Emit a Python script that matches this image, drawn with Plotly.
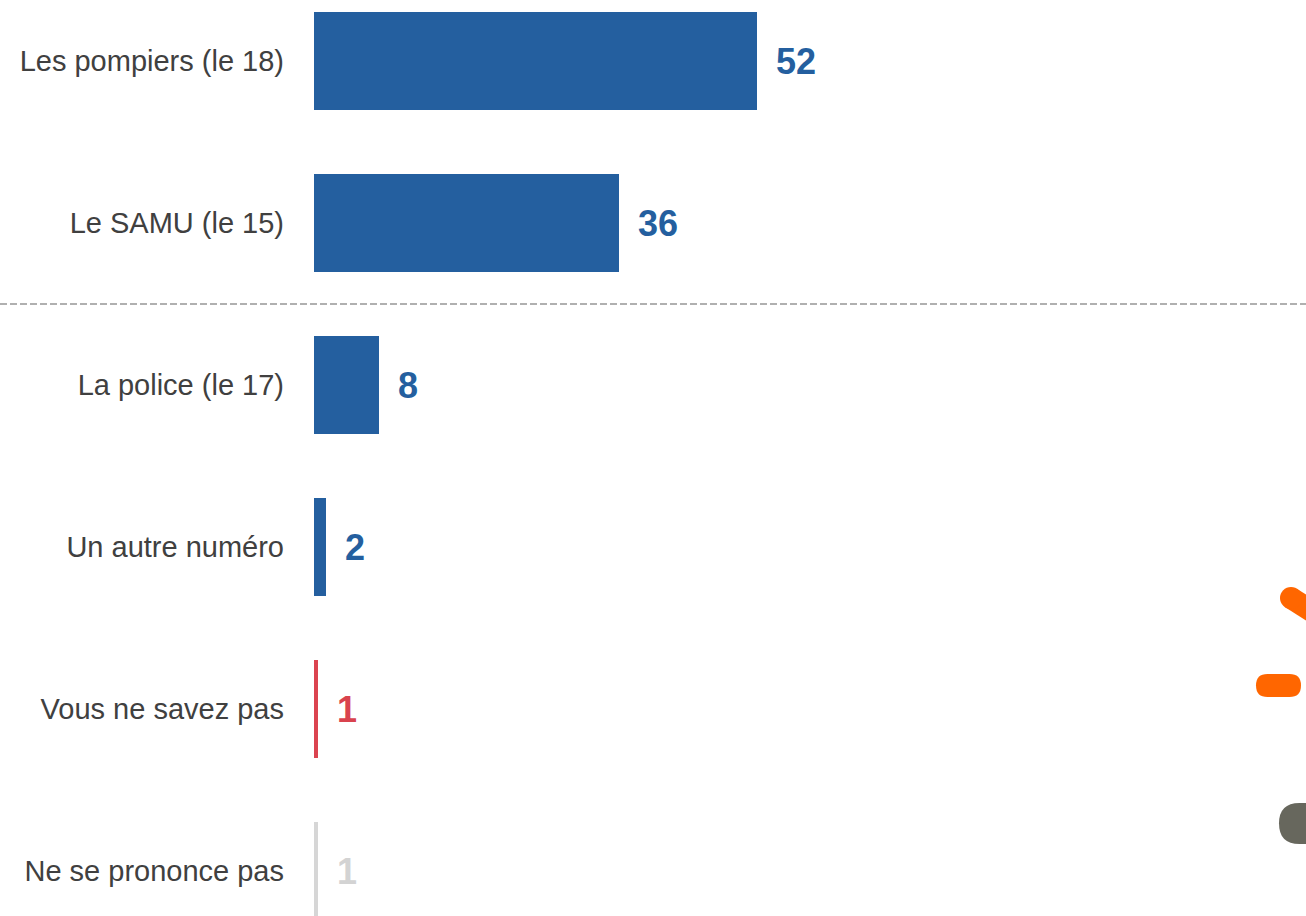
import plotly.graph_objects as go

categories = ["Les pompiers (le 18)", "Le SAMU (le 15)", "La police (le 17)",
              "Un autre numéro", "Vous ne savez pas", "Ne se prononce pas"]
bar_values = [52, 35.8, 7.6, 1.4, 0.5, 0.5]
value_labels = ["52", "36", "8", "2", "1", "1"]
bar_colors = ["#245f9f", "#245f9f", "#245f9f", "#245f9f", "#db4450", "#d6d6d6"]
label_colors = ["#245f9f", "#245f9f", "#245f9f", "#245f9f", "#d9434e", "#d3d3d3"]

W, H = 1306, 916
FONT = "Liberation Sans, Arial, sans-serif"

fig = go.Figure()
fig.add_trace(go.Bar(
    y=categories, x=bar_values, orientation="h",
    marker=dict(color=bar_colors, line=dict(width=0)),
    width=0.605, hoverinfo="skip",
))

for cat, v, lab, col in zip(categories, bar_values, value_labels, label_colors):
    fig.add_annotation(x=v, y=cat, text=f"<b>{lab}</b>", showarrow=False,
                       xanchor="left", yanchor="middle", xshift=17,
                       font=dict(family=FONT, size=36, color=col))

# dashed separator between row 2 and row 3
fig.add_shape(type="line", xref="paper", yref="y", x0=0, x1=1, y0=1.5, y1=1.5,
              line=dict(color="#b0b0b0", width=2, dash="7px,3px"))


def px(x, y):
    return f"{x / W:.5f},{1 - y / H:.5f}"


def pill(x0, y0, x1, y1):
    r = (y1 - y0) / 2
    return ("M " + px(x0 + r, y0) + " L " + px(x1 - r, y0) +
            " Q " + px(x1, y0) + " " + px(x1, y0 + r) +
            " Q " + px(x1, y1) + " " + px(x1 - r, y1) +
            " L " + px(x0 + r, y1) +
            " Q " + px(x0, y1) + " " + px(x0, y0 + r) +
            " Q " + px(x0, y0) + " " + px(x0 + r, y0) + " Z")


# decorative logo fragments on the right edge
fig.add_shape(type="path", xref="paper", yref="paper", path=pill(1256, 674, 1301, 697),
              fillcolor="#ff6600", line=dict(width=0), layer="above")
fig.add_shape(type="line", xref="paper", yref="paper",
              x0=1291 / W, y0=1 - 598 / H, x1=1345 / W, y1=1 - 632 / H,
              line=dict(color="#ff6600", width=22), layer="above")
fig.add_shape(type="circle", xref="paper", yref="paper",
              x0=1280 / W, y0=1 - 587 / H, x1=1302 / W, y1=1 - 609 / H,
              fillcolor="#ff6600", line=dict(width=0), layer="above")
fig.add_shape(type="path", xref="paper", yref="paper", path=pill(1279, 803, 1360, 844),
              fillcolor="#67675d", line=dict(width=0), layer="above")

fig.update_layout(
    width=W, height=H,
    margin=dict(l=0, r=0, t=0, b=0),
    paper_bgcolor="white", plot_bgcolor="white",
    showlegend=False,
    bargap=0,
    xaxis=dict(domain=[314 / W, 1], range=[0, 992 / (443 / 52)],
               visible=False, showgrid=False, zeroline=False, fixedrange=True),
    yaxis=dict(range=[(H - 61) / 162, -61 / 162], showgrid=False, zeroline=False,
               showline=False, ticks="", automargin=False, fixedrange=True,
               ticklabelstandoff=29,
               tickfont=dict(family=FONT, size=29, color="#404040")),
)

fig.write_html("out.html", config={"displayModeBar": False, "staticPlot": True},
               post_script="document.body.style.margin='0';document.body.style.overflow='hidden';")
